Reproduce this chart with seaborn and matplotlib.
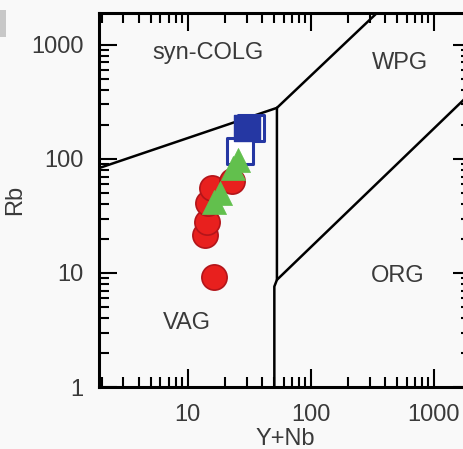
import matplotlib
matplotlib.use("Agg")
import matplotlib.pyplot as plt
import seaborn as sns
from matplotlib.ticker import LogLocator, FuncFormatter, NullFormatter
from matplotlib.patches import Rectangle

# Sample compositions (ppm)
red_ynb = [16.3, 13.7, 14.3, 14.5, 15.7, 22.8]
red_rb = [9.2, 21.5, 28, 41, 55.7, 64]
green_ynb = [18.2, 16.3, 25.5, 23.2]
green_rb = [50, 42, 98, 83]
blue_ynb = [30.2]
blue_rb = [187]
blue_open_ynb = [32.5, 26.5]
blue_open_rb = [187, 117]

# Field boundaries of the Rb vs Y+Nb discrimination diagram
vag_colg_x = [1.9, 53]
vag_colg_y = [83, 280]
colg_wpg_x = [53, 344]
colg_wpg_y = [280, 1900]
vag_wpg_x = [50.5, 50.5, 53, 53]
vag_wpg_y = [1, 7.6, 8.7, 280]
wpg_org_x = [53, 2000]
wpg_org_y = [8.7, 380]

field_labels = ["syn-COLG", "WPG", "ORG", "VAG"]
field_x = [14.5, 530, 510, 9.8]
field_y = [851, 695, 9.4, 3.64]

x_ticks = [10, 100, 1000]
y_ticks = [1, 10, 100, 1000]

sns.set_style("ticks")
plt.rcParams["font.family"] = ["Liberation Sans", "DejaVu Sans"]

BG = "#f9f9f9"
TXT = "#3a3a3a"

fig = plt.figure(figsize=(4.64, 4.49), dpi=100, facecolor=BG)
ax = fig.add_axes([99 / 464, 62 / 449, 372 / 464, 374 / 449])
ax.set_facecolor(BG)
ax.set_xscale("log")
ax.set_yscale("log")

# boundaries
for bx, by in [(vag_colg_x, vag_colg_y), (colg_wpg_x, colg_wpg_y),
               (vag_wpg_x, vag_wpg_y), (wpg_org_x, wpg_org_y)]:
    sns.lineplot(x=bx, y=by, sort=False, estimator=None, color="black",
                 lw=1.8, ax=ax, zorder=2)

blue = "#2537a3"
# open squares
sns.scatterplot(x=blue_open_ynb, y=blue_open_rb, marker="s", s=330,
                facecolor="white", edgecolor=blue, linewidth=2.2, ax=ax, zorder=3)
# filled squares
sns.scatterplot(x=blue_ynb, y=blue_rb, marker="s", s=330,
                color=blue, edgecolor=blue, linewidth=1, ax=ax, zorder=4)
# circles
sns.scatterplot(x=red_ynb, y=red_rb, marker="o", s=330,
                color="#e8201e", edgecolor="#b3151a", linewidth=1.2, ax=ax, zorder=5)
# triangles
sns.scatterplot(x=green_ynb, y=green_rb, marker="^", s=300,
                color="#62c04d", edgecolor="#62c04d", linewidth=0.5, ax=ax, zorder=6)

for lab, lx, ly in zip(field_labels, field_x, field_y):
    ax.text(lx, ly, lab, fontsize=17, color=TXT, ha="center", va="center", zorder=7)

ax.set_xlim(1.9, 2000)
ax.set_ylim(1, 1900)
ax.set_xticks(x_ticks)
ax.set_yticks(y_ticks)
fmt = FuncFormatter(lambda v, p: f"{v:g}")
ax.xaxis.set_major_formatter(fmt)
ax.yaxis.set_major_formatter(fmt)
ax.xaxis.set_minor_locator(LogLocator(base=10, subs=range(2, 10), numticks=20))
ax.yaxis.set_minor_locator(LogLocator(base=10, subs=range(2, 10), numticks=20))
ax.xaxis.set_minor_formatter(NullFormatter())
ax.yaxis.set_minor_formatter(NullFormatter())

ax.tick_params(which="both", direction="in", top=True, right=True,
               width=1.5, color="black", labelsize=17, labelcolor=TXT)
ax.tick_params(which="major", length=13)
ax.tick_params(which="minor", length=7)
ax.tick_params(axis="y", which="major", pad=11)
ax.tick_params(axis="x", which="major", pad=12)

for sp in ax.spines.values():
    sp.set_linewidth(2.2)
    sp.set_color("black")

ax.set_xlabel("Y+Nb", fontsize=17, color=TXT, labelpad=2)
ax.set_ylabel("Rb", fontsize=17, color=TXT, labelpad=4)

fig.patches.append(Rectangle((0, 1 - 37 / 449), 6 / 464, 27 / 449,
                             transform=fig.transFigure, facecolor="#c8c8c8",
                             edgecolor="none"))

fig.savefig("out.png", dpi=100, facecolor=BG)
